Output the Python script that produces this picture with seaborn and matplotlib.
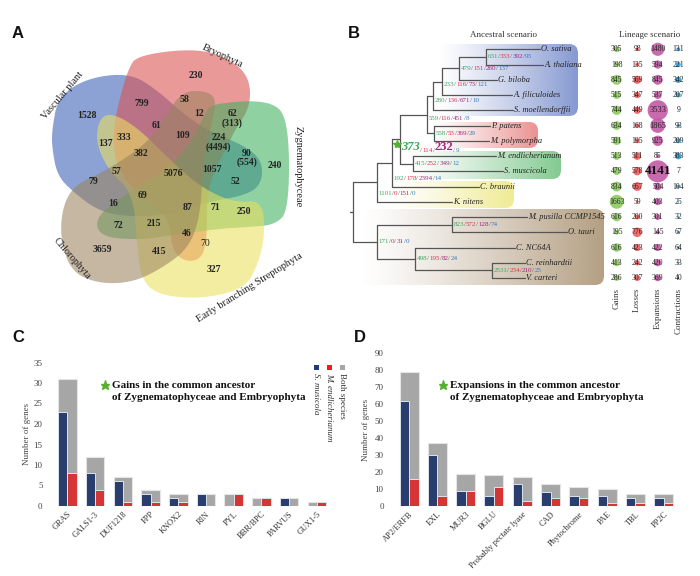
import numpy as np
import pandas as pd
import matplotlib
matplotlib.use('Agg')
import matplotlib.pyplot as plt
import matplotlib.colors as mcolors
from matplotlib.patches import Polygon, FancyBboxPatch, Rectangle
import seaborn as sns

sns.set_theme(style='white')
plt.rcParams['font.family'] = ['Liberation Serif', 'DejaVu Serif']

# ---------------- data ----------------
# A: Venn
set_names = ['Vascular plant', 'Bryophyta', 'Zygnematophyceae',
             'Early branching Streptophyta', 'Chlorophyta']
set_colors = ['#3a5fb5', '#dc5050', '#40b060', '#ece060', '#9c8460']
venn_labels = ['1528', '230', '240', '327', '3659', '799', '58', '12', '62\n(313)', '61',
               '333', '109', '224\n(4494)', '137', '382', '90\n(554)', '57', '5076', '1057',
               '79', '52', '69', '16', '87', '71', '250', '72', '215', '46', '70', '415']

# B: lineage scenario
species = ['O. sativa', 'A. thaliana', 'G. biloba', 'A. filiculoides', 'S. moellendorffii',
           'P. patens', 'M. polymorpha', 'M. endlicherianum', 'S. muscicola', 'C. braunii',
           'K. nitens', 'M. pusilla CCMP1545', 'O. tauri', 'C. NC64A', 'C. reinhardtii',
           'V. carteri']
lin_gains = [305, 198, 845, 515, 744, 634, 591, 513, 479, 834, 1663, 616, 195, 616, 413, 286]
lin_losses = [98, 135, 569, 347, 449, 168, 195, 511, 578, 667, 59, 200, 776, 423, 242, 307]
lin_exp = [1480, 594, 845, 537, 3533, 1865, 925, 85, 4141, 504, 403, 301, 145, 422, 420, 369]
lin_con = [131, 221, 342, 207, 9, 93, 209, 383, 7, 104, 25, 32, 67, 64, 33, 40]

# B: ancestral scenario (gains/losses/expansions/contractions per node)
anc = {
    'angio': (631, 333, 392, 93), 'seed': (479, 151, 260, 137), 'euphyl': (233, 116, 73, 121),
    'tracheo': (280, 136, 671, 10), 'embryo': (559, 116, 451, 8), 'bryo': (558, 53, 369, 29),
    'star': (373, 114, 232, 9), 'zyg': (415, 252, 349, 12), 'phragmo': (192, 178, 2394, 14),
    'strepto': (1101, 0, 151, 0), 'mamiel': (823, 572, 128, 74), 'core': (498, 195, 82, 24),
    'volvo': (2531, 234, 210, 25), 'chloro': (171, 0, 31, 0),
}

# C: gains
gain_genes = ['GRAS', 'GALS1-3', 'DUF1218', 'FPP', 'KNOX2', 'RIN', 'PYL', 'BBR/BPC', 'PARVUS', 'GUX1-5']
gain_smus = [23, 8, 6, 3, 2, 3, 0, 0, 2, 0]
gain_mend = [8, 4, 1, 1, 1, 0, 3, 2, 0, 1]
gain_both = [31, 12, 7, 4, 3, 3, 3, 2, 2, 1]

# D: expansions
exp_genes = ['AP2/ERFB', 'EXL', 'MUR3', 'BGLU', 'Probably pectate lyase', 'CAD',
             'Phytochrome', 'PAE', 'TBL', 'PP2C']
exp_smus = [62, 30, 9, 6, 13, 8, 6, 6, 5, 5]
exp_mend = [16, 6, 9, 11, 3, 5, 5, 2, 2, 2]
exp_both = [79, 37, 19, 18, 17, 13, 11, 10, 7, 7]

W, H = 700, 576
fig = plt.figure(figsize=(7, 5.76), dpi=100)


def px_axes(x0, y0, x1, y1, **kw):
    return fig.add_axes([x0 / W, 1 - y1 / H, (x1 - x0) / W, (y1 - y0) / H], **kw)


def chaikin(pts, n=4):
    p = np.asarray(pts, float)
    for _ in range(n):
        q = np.roll(p, -1, axis=0)
        a = 0.75 * p + 0.25 * q
        b = 0.25 * p + 0.75 * q
        p = np.empty((2 * len(a), 2))
        p[0::2] = a
        p[1::2] = b
    return p


# ---------------- A: Venn ----------------
axA = px_axes(0, 0, 350, 390)
axA.set_xlim(0, 350)
axA.set_ylim(390, 0)
axA.axis('off')

shapes = [
    [(52, 130), (58, 97), (87, 78), (130, 73), (157, 90), (187, 117), (213, 133), (243, 145),
     (262, 160), (262, 183), (247, 195), (207, 202), (173, 214), (133, 217), (100, 212),
     (73, 192), (57, 175), (52, 147)],
    [(137, 55), (200, 48), (235, 62), (250, 80), (250, 107), (235, 130), (227, 147), (213, 173),
     (207, 197), (207, 237), (202, 259), (185, 262), (172, 250), (170, 223), (160, 210),
     (133, 190), (115, 163), (113, 130), (120, 97), (128, 70)],
    [(213, 103), (273, 100), (289, 123), (289, 210), (275, 225), (247, 227), (217, 229),
     (173, 235), (140, 240), (100, 237), (95, 217), (127, 193), (167, 170), (193, 140),
     (205, 113)],
    [(262, 200), (265, 233), (259, 262), (245, 289), (200, 299), (158, 295), (141, 279),
     (137, 243), (133, 193), (108, 170), (95, 140), (101, 115), (117, 115), (140, 130),
     (167, 157), (200, 187), (235, 203)],
    [(63, 205), (60, 237), (71, 272), (100, 284), (135, 282), (167, 265), (189, 247),
     (200, 217), (203, 167), (210, 130), (217, 100), (207, 91), (183, 91), (167, 113),
     (150, 140), (123, 160), (97, 175), (75, 185)],
]
for pts, col in zip(shapes, set_colors):
    axA.add_patch(Polygon(chaikin(pts), closed=True, fc=col, ec='none', alpha=0.58))

venn_pos = [(87, 116), (196, 76), (275, 166), (214, 269), (102, 249), (142, 103), (184, 100),
            (199, 114), (232, 118.5), (157, 126), (124, 137), (183, 136), (218.5, 142.5),
            (106, 144), (141, 154), (247, 158), (116, 171), (173, 174), (212, 170), (93, 182),
            (235, 181), (142, 196), (113, 203), (188, 208), (215, 207), (244, 212), (118, 225),
            (154, 223), (187, 233), (205, 243), (159, 251)]
for lab, (x, y) in zip(venn_labels, venn_pos):
    axA.text(x, y, lab, ha='center', va='center', fontsize=7,
             fontweight='normal' if lab == '70' else 'bold', color='#222222', linespacing=1.05)

set_pos = [(63, 95, 50), (223, 56, -25), (298, 167, -90), (250, 288, 32), (72, 259, -49)]
for name, (x, y, r) in zip(set_names, set_pos):
    axA.text(x, y, name, ha='center', va='center', rotation=r, fontsize=7.5, color='#222222')

# ---------------- B: tree ----------------
axT = px_axes(350, 0, 700, 345)
row0, step = 49.3, 15.25


def leaf_y(i):
    return row0 + i * step


tip_end = [540, 543, 497, 512, 513, 490, 489, 496, 503, 479, 452, 527, 567, 515, 525, 525]
nodes = {
    'angio': (486, ['O. sativa', 'A. thaliana']),
    'seed': (459, ['angio', 'G. biloba']),
    'euphyl': (442, ['seed', 'A. filiculoides']),
    'tracheo': (433, ['euphyl', 'S. moellendorffii']),
    'bryo': (434, ['P. patens', 'M. polymorpha']),
    'embryo': (427, ['tracheo', 'bryo']),
    'zyg': (413, ['M. endlicherianum', 'S. muscicola']),
    'star': (400, ['embryo', 'zyg']),
    'phragmo': (392, ['star', 'C. braunii']),
    'strepto': (377, ['phragmo', 'K. nitens']),
    'mamiel': (452, ['M. pusilla CCMP1545', 'O. tauri']),
    'volvo': (492, ['C. reinhardtii', 'V. carteri']),
    'core': (415, ['C. NC64A', 'volvo']),
    'chloro': (377, ['mamiel', 'core']),
    'root': (353, ['strepto', 'chloro']),
}
label_dy = {'euphyl': 3, 'tracheo': 4, 'embryo': 4, 'star': 8, 'phragmo': 16, 'strepto': 11}


def ny(n):
    if n in species:
        return leaf_y(species.index(n))
    return np.mean([ny(c) for c in nodes[n][1]])


def nx(n):
    if n in species:
        return tip_end[species.index(n)]
    return nodes[n][0]


# clade boxes with gradient
boxes = [(438, 44, 578, 116, '#7f93cf'), (432, 122, 538, 148, '#ea8b8b'),
         (410, 151, 561, 179, '#7cc78a'), (390, 181, 514, 208, '#efea8e'),
         (360, 209, 604, 285, '#b09a7c')]
for x0, y0, x1, y1, col in boxes:
    patch = FancyBboxPatch((x0, y0), x1 - x0, y1 - y0, boxstyle='round,pad=0,rounding_size=9',
                           fc='none', ec='none')
    axT.add_patch(patch)
    t = np.linspace(0, 1, 256)
    img = np.zeros((1, 256, 4))
    img[..., :3] = mcolors.to_rgb(col)
    img[..., 3] = 0.95 * t ** 1.2
    im = axT.imshow(img, extent=(x0, x1, y1, y0), aspect='auto', interpolation='bilinear', zorder=0)
    im.set_clip_path(patch)

lc = '#555555'
for n, (x, ch) in nodes.items():
    ys = [ny(c) for c in ch]
    axT.plot([x, x], [min(ys), max(ys)], color=lc, lw=0.9, solid_capstyle='round', zorder=2)
    for c in ch:
        axT.plot([x, nx(c)], [ny(c), ny(c)], color=lc, lw=0.9, solid_capstyle='round', zorder=2)
axT.plot([349, 353], [ny('root')] * 2, color=lc, lw=0.9)

for i, sp in enumerate(species):
    axT.text(tip_end[i] + 1, leaf_y(i), sp, fontsize=6, fontstyle='italic', va='center',
             ha='left', color='#222222', zorder=3)

cG, cL, cE, cC, cS = '#3aa85a', '#e0304a', '#a3237f', '#3a78c0', '#666666'


def rainbow(ax, x, y, parts):
    s, c, fs, fw, st = parts[0]
    t = ax.text(x, y, s, color=c, fontsize=fs, fontweight=fw, fontstyle=st, va='center',
                ha='left', zorder=3)
    for s, c, fs, fw, st in parts[1:]:
        t = ax.annotate(s, xy=(1, 0), xycoords=t, va='bottom', ha='left', color=c,
                        fontsize=fs, fontweight=fw, fontstyle=st, zorder=3)


for n, vals in anc.items():
    g, l, e, c = vals
    fs = 5
    if n == 'star':
        parts = [(str(g), cG, 9, 'bold', 'italic'), ('/', cS, fs, 'normal', 'normal'),
                 (str(l), cL, fs, 'normal', 'normal'), ('/', cS, fs, 'normal', 'normal'),
                 (str(e), cE, 9, 'bold', 'normal'), ('/', cS, fs, 'normal', 'normal'),
                 (str(c), cC, fs, 'normal', 'normal')]
    else:
        parts = [(str(g), cG, fs, 'normal', 'normal'), ('/', cS, fs, 'normal', 'normal'),
                 (str(l), cL, fs, 'normal', 'normal'), ('/', cS, fs, 'normal', 'normal'),
                 (str(e), cE, fs, 'normal', 'normal'), ('/', cS, fs, 'normal', 'normal'),
                 (str(c), cC, fs, 'normal', 'normal')]
    rainbow(axT, nodes[n][0] + 1.5, ny(n) + label_dy.get(n, 0), parts)

axT.plot([397], [ny('star') + 5], marker='*', ms=6, color='#55b030', zorder=4)
axT.text(503, 35, 'Ancestral scenario', ha='center', va='center', fontsize=6.5, color='#333333')
axT.text(650, 35, 'Lineage scenario', ha='center', va='center', fontsize=6.5, color='#333333')
axT.set_xlim(350, 700)
axT.set_ylim(345, 0)
axT.axis('off')

# lineage bubbles
axB = px_axes(350, 0, 700, 345)
metrics = ['Gains', 'Losses', 'Expansions', 'Contractions']
wide = pd.DataFrame({'species': species, 'Gains': lin_gains, 'Losses': lin_losses,
                     'Expansions': lin_exp, 'Contractions': lin_con})
lin = wide.melt(id_vars='species', var_name='metric', value_name='value')
pal = {'Gains': '#8cca5e', 'Losses': '#ef5b5b', 'Expansions': '#c45aa6', 'Contractions': '#2ea3e3'}
sns.scatterplot(data=lin, x='metric', y='species', hue='metric', palette=pal, size='value',
                sizes=(0, 250), size_norm=(0, 4141), alpha=0.9, linewidth=0, legend=False,
                ax=axB)
for i in range(len(species)):
    for j, col in enumerate([lin_gains, lin_losses, lin_exp, lin_con]):
        v = col[i]
        if v == 4141:
            axB.text(j, i, str(v), ha='center', va='center', fontsize=9.5, fontweight='bold',
                     color='#111111')
        else:
            axB.text(j, i, str(v), ha='center', va='center', fontsize=6 if v > 1800 else 5.5,
                     color='#222222')
for j, m in enumerate(metrics):
    axB.text(j, 15.65, m, rotation=90, ha='center', va='top', fontsize=6.5, color='#333333')
colw = 20.53
axB.set_xlim((350 - 616.7) / colw, (700 - 616.7) / colw)
axB.set_ylim((345 - row0) / step, (0 - row0) / step)
axB.axis('off')

# ---------------- C / D: bars ----------------
bar_pal = {'S. musicola': '#1f3a78', 'M. endlicherianum': '#ee1c1c'}


def bar_panel(ax, genes, smus, mend, both, ymax, ystep, ylab_pad):
    n = len(genes)
    d_both = pd.DataFrame({'gene': genes, 'count': both})
    sns.barplot(data=d_both, x='gene', y='count', color='#a6a6a6', width=0.67,
                edgecolor='#e4e4e4', linewidth=0.8, errorbar=None, ax=ax)
    d_sp = pd.DataFrame({'gene': genes * 2,
                         'species': ['S. musicola'] * n + ['M. endlicherianum'] * n,
                         'count': smus + mend})
    sns.barplot(data=d_sp, x='gene', y='count', hue='species', palette=bar_pal, width=0.67,
                dodge=True, edgecolor='#dde3ee', linewidth=0.7, errorbar=None, legend=False,
                ax=ax)
    ax.set_xlim(-0.75, 9.5)
    ax.set_ylim(0, ymax)
    ax.set_yticks(range(0, ymax + 1, ystep))
    ax.set_xticks(range(n))
    ax.set_xticklabels(genes, rotation=45, ha='right', rotation_mode='anchor', fontsize=6,
                       color='#333333')
    ax.tick_params(axis='y', labelsize=6.5, labelcolor='#444444', length=0, pad=3)
    ax.tick_params(axis='x', length=0, pad=3)
    ax.set_xlabel('')
    ax.set_ylabel('Number of genes', fontsize=6.5, color='#444444', labelpad=ylab_pad)
    sns.despine(ax=ax, left=True, bottom=True)
    ax.patch.set_alpha(0)


axC = px_axes(46.7, 362.5, 330.7, 506)
bar_panel(axC, gain_genes, gain_smus, gain_mend, gain_both, 35, 5, 2)
axD = px_axes(387.8, 353, 677.9, 506)
bar_panel(axD, exp_genes, exp_smus, exp_mend, exp_both, 90, 10, 3)

# ---------------- overlay: letters, titles, legend ----------------
ov = fig.add_axes([0, 0, 1, 1])
ov.set_xlim(0, W)
ov.set_ylim(H, 0)
ov.axis('off')
for lab, (x, y) in zip('ABCD', [(18, 33), (354, 33), (18, 338), (360, 338)]):
    ov.text(x, y, lab, ha='center', va='center', fontsize=12, fontweight='bold',
            family='Liberation Sans', color='#111111')

for (x, y), first in [((112, 385), 'Gains in the common ancestor'),
                      ((450, 385), 'Expansions in the common ancestor')]:
    ov.text(x, y, first, ha='left', va='center', fontsize=8, fontweight='bold', color='#111111')
    ov.text(x, y + 13, 'of Zygnematophyceae and Embryophyta', ha='left', va='center',
            fontsize=8, fontweight='bold', color='#111111')
    ov.plot([x - 7], [y], marker='*', ms=6.5, color='#55b030')

leg = [('S. musicola', '#1f3a78', 'italic'), ('M. endlicherianum', '#ee1c1c', 'italic'),
       ('Both species', '#a6a6a6', 'normal')]
for k, (name, col, st) in enumerate(leg):
    x = 316 + 13 * k
    ov.add_patch(Rectangle((x - 2.5, 364.5), 5, 5, fc=col, ec='none'))
    ov.text(x, 373, name, rotation=-90, ha='center', va='top', fontsize=6.5, fontstyle=st,
            color='#333333')

fig.savefig('out.png', dpi=100)
